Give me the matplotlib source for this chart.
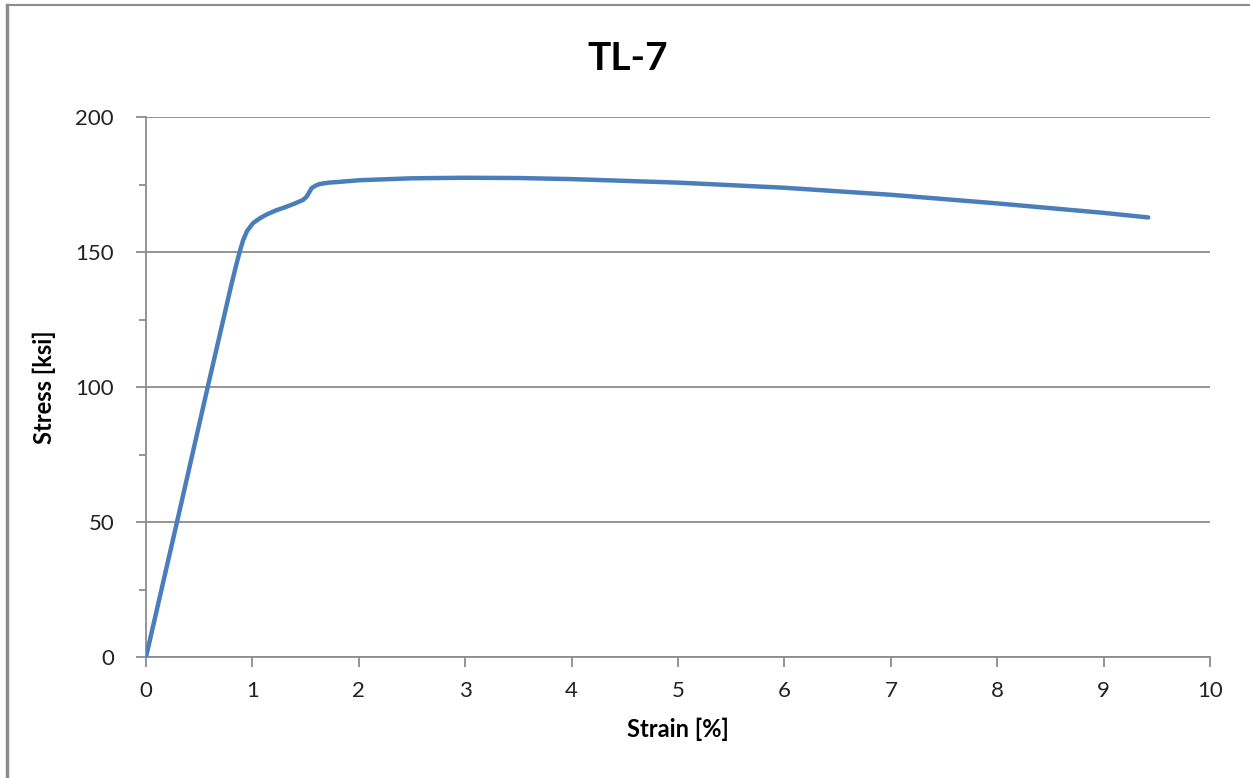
import numpy as np
import matplotlib.pyplot as plt
from matplotlib.lines import Line2D
from matplotlib.ticker import MultipleLocator

plt.rcParams['font.family'] = ['Lato', 'DejaVu Sans']

strain = [0.0, 0.3, 0.58, 0.8, 0.85, 0.88, 0.912, 0.95, 1.006, 1.07, 1.134,
          1.22, 1.322, 1.4, 1.476, 1.51, 1.557, 1.6, 1.635, 1.72, 1.823, 2.01, 2.5, 3.0, 3.5,
          4.0, 5.0, 6.0, 7.0, 8.0, 9.0, 9.42]
stress = [0.0, 51.5, 100.0, 137.5, 145.5, 150.0, 154.3, 157.8, 160.7, 162.5, 163.9,
          165.4, 166.8, 168.0, 169.3, 170.5, 173.7, 174.7, 175.2, 175.7, 176.0, 176.6, 177.3, 177.5, 177.4,
          177.0, 175.7, 173.8, 171.2, 168.0, 164.5, 162.8]

fig = plt.figure(figsize=(12.5, 7.78), dpi=100)
ax = fig.add_axes([0.1168, 0.1555, 0.8512, 0.6941])

ax.plot(strain, stress, color="#4a7ebb", lw=3.2, solid_capstyle="round",
        solid_joinstyle="round", zorder=3)

ax.set_xlim(0, 10)
ax.set_ylim(0, 200)
ax.xaxis.set_major_locator(MultipleLocator(1))
ax.yaxis.set_major_locator(MultipleLocator(50))
ax.yaxis.set_minor_locator(MultipleLocator(25))
ax.grid(axis="y", which="major", color="#8c8c8c", lw=1.3)
for s in ["top", "right"]:
    ax.spines[s].set_visible(False)
for s in ["left", "bottom"]:
    ax.spines[s].set_color("#8c8c8c")
    ax.spines[s].set_linewidth(1.3)
ax.tick_params(which="both", direction="out", color="#8c8c8c", width=1.3, labelsize=16,
               labelcolor="#222222")
ax.tick_params(axis="x", which="major", length=7, pad=10)
ax.tick_params(axis="y", which="major", length=7, pad=16)
ax.tick_params(which="minor", length=5)

ax.set_xlabel("Strain [%]", fontsize=17, fontweight="bold", labelpad=12)
ax.set_ylabel("Stress [ksi]", fontsize=17, fontweight="bold", labelpad=14)
fig.text(0.502, 0.925, "TL-7", ha="center", va="center", fontsize=28, fontweight="bold")

# chart area border (left and top edges only visible)
fig.add_artist(Line2D([0.0056, 0.0056], [0, 0.9936], color="#8c8c8c", lw=2.5, transform=fig.transFigure))
fig.add_artist(Line2D([0.0056, 1.0], [0.9936, 0.9936], color="#8c8c8c", lw=1.5, transform=fig.transFigure))

fig.savefig("out.png", dpi=100)
